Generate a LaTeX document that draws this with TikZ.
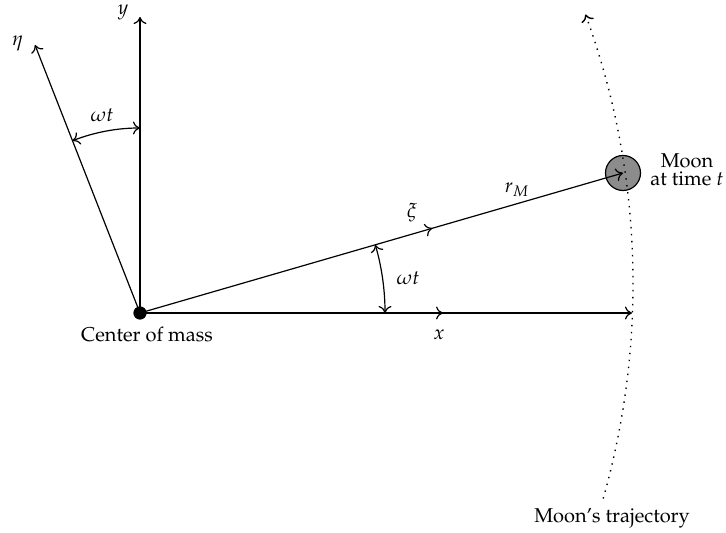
\documentclass[tikz,border=0pt]{standalone}
\usepackage[T1]{fontenc}
\usepackage{mathpazo}
\usetikzlibrary{arrows.meta,decorations.markings}

\begin{document}
\begin{tikzpicture}[
  x=0.5pt, y=0.5pt, >={Computer Modern Rightarrow[length=3.5pt, width=6.5pt]},
  line width=0.6pt,
  midarrow/.style={postaction={decorate},
    decoration={markings, mark=at position #1 with {\arrow{>}}}},
  body/.style={circle, draw, inner sep=0pt},
  traj/.style={line width=0.7pt, dash pattern=on 0.7pt off 2.8pt},
  lbl/.style={inner sep=1pt}]
\useasboundingbox (-140,-220) rectangle (586,313);
% axes and rotating frame
\coordinate (O) at (0,0);
\coordinate (xend) at (492,0);
\coordinate (yend) at (0,296);
\coordinate (etaend) at (-105,268);
\coordinate (tc) at (-295,29);
\node[body, fill=black!45, minimum size=17.5pt] (moon) at (483,140) {};
\draw[->, midarrow=0.616] (O) -- (xend);
\draw[->] (O) -- (yend);
\draw[->] (O) -- (etaend);
\draw[->, midarrow=0.605] (O) -- (moon.center);
\node[body, fill=black, minimum size=6pt] (com) at (O) {};
% angles
\draw[<->] (O) ++(0:122.5pt) arc[start angle=0, end angle=16.16, radius=122.5pt];
\draw[<->] (O) ++(90:92.5pt) arc[start angle=90, end angle=111.4, radius=92.5pt];
% trajectory
\draw[traj, ->] (tc) ++(-15.8:394pt) arc[start angle=-15.8, end angle=20, radius=394pt];
% labels
\node[lbl] (xlbl) at (299,-22) {$x$};
\node[lbl] (ylbl) at (-17,301) {$y$};
\node[lbl] (etalbl) at (-122,270) {$\eta$};
\node[lbl] (xilbl) at (272,100) {$\xi$};
\node[lbl] (rlbl) at (377,123) {$r_M$};
\node[lbl] (wlow) at (268,35) {$\omega t$};
\node[lbl] (wup) at (-38,198) {$\omega t$};
\node[lbl] (comlbl) at (7,-21) {Center of mass};
\node[lbl, align=center] (moonlbl) at (547,143) {Moon\\[-3pt]at time $t$};
\node[lbl] (trajlbl) at (472,-205) {Moon's trajectory};
\end{tikzpicture}
\end{document}
